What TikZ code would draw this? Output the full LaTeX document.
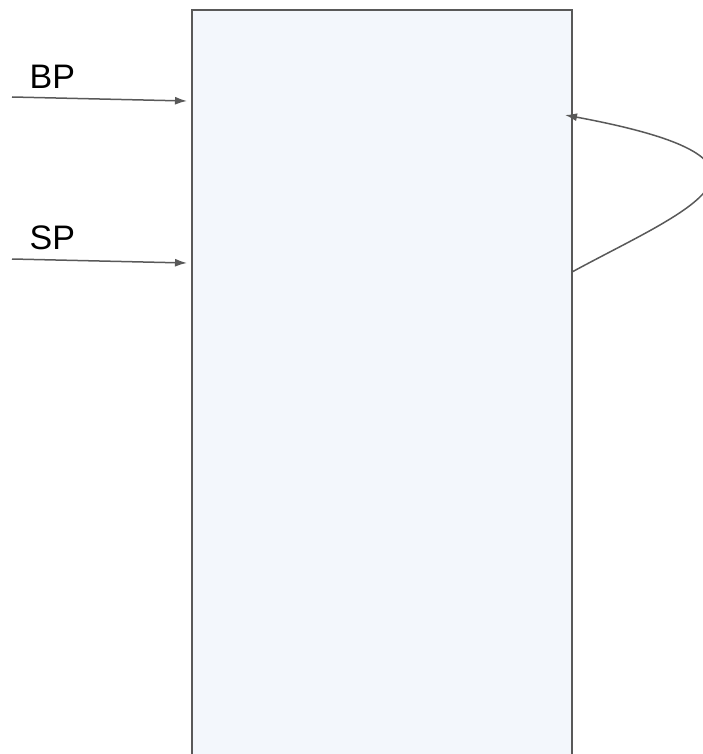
\documentclass[tikz,border=0pt]{standalone}
\usepackage{fontspec}
\setmainfont{Liberation Sans}
\usetikzlibrary{arrows.meta}
\definecolor{stroke}{HTML}{595959}
\definecolor{panel}{HTML}{F3F7FC}
\begin{document}
\begin{tikzpicture}[x=1pt,y=-1pt,
  frame/.style={draw=stroke,line width=1.8pt,fill=panel},
  ptr/.style={draw=stroke,line width=1.5pt,-{Latex[length=12pt,width=8pt]}},
  lbl/.style={font=\fontsize{34}{34}\selectfont,anchor=base west,inner sep=0pt}]
  \useasboundingbox (0,0) rectangle (703,754);
  \clip (0,0) rectangle (703,754);
  % stack frame
  \draw[frame] (192,10) rectangle (572,780);
  \coordinate (bpTarget) at (187,101);
  \coordinate (spTarget) at (187,263);
  \coordinate (bpStart) at (12,97);
  \coordinate (spStart) at (12,259);
  \coordinate (loopStart) at (572,272);
  \coordinate (loopEnd) at (565,115);
  % register labels
  \node[lbl] (bp) at (29.5,89) {BP};
  \node[lbl] (sp) at (29.5,249) {SP};
  % pointers into the frame
  \draw[ptr] (bpStart) -- (bpTarget);
  \draw[ptr] (spStart) -- (spTarget);
  % saved BP link back up the frame
  \draw[ptr] (loopStart) .. controls (686,210) and (818,162) .. (loopEnd);
\end{tikzpicture}
\end{document}
